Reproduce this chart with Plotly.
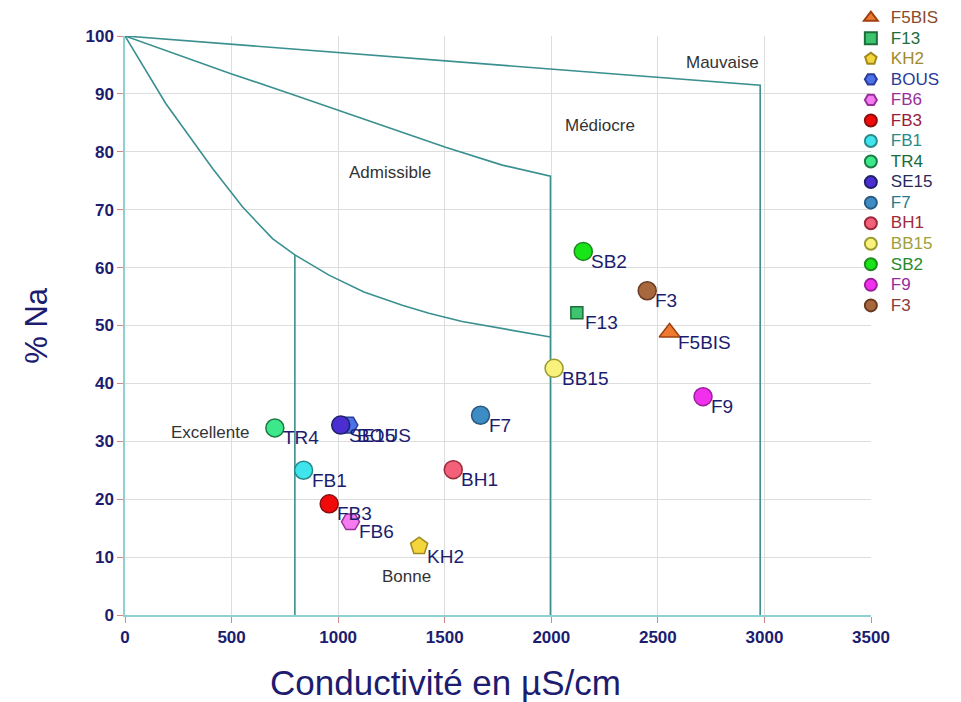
import plotly.graph_objects as go

# ---- sample data ----
names = ["F5BIS", "F13", "KH2", "BOUS", "FB6", "FB3", "FB1", "TR4",
         "SE15", "F7", "BH1", "BB15", "SB2", "F9", "F3"]
conductivity = [2555, 2120, 1380, 1050, 1058, 958, 838, 703,
                1012, 1668, 1540, 2013, 2150, 2712, 2450]
na_percent = [48.8, 52.2, 11.9, 32.8, 16.1, 19.2, 25.0, 32.3,
              32.8, 34.5, 25.1, 42.6, 62.8, 37.7, 56.0]
symbols = ["triangle-up", "square", "pentagon", "hexagon2", "hexagon2", "circle",
           "circle", "circle", "circle", "circle", "circle", "circle", "circle",
           "circle", "circle"]
fill_colors = ["#ee7a30", "#3cc46e", "#f5d53c", "#4c72e8", "#f47cf0", "#f00a0a",
               "#40e4ec", "#3ce88a", "#4a2ed0", "#3d8cc4", "#f2607a", "#f8f27c",
               "#18e418", "#f030ec", "#a8683e"]
line_colors = ["#a04010", "#1c6e3a", "#a08a20", "#2a3c9c", "#9a309a", "#8a1010",
               "#2a8a8a", "#1e7a44", "#20206a", "#2a5a80", "#9a2a3a", "#9a9a30",
               "#208a20", "#9a209a", "#6a3a22"]
legend_text_colors = ["#8b4a2a", "#1e6e3c", "#a08a2a", "#2a3a9a", "#9a309a", "#9a1a3a",
                      "#2a8a8a", "#1a6a3a", "#2a2a5a", "#2a7a8a", "#a02a3a", "#a0a03a",
                      "#2a8a2a", "#9a2a9a", "#8a3a3a"]

# ---- diagram boundaries ----
outer_x = [0, 2980, 2980]
outer_y = [100, 91.5, 0]
middle_x = [0, 497, 786, 997, 1254, 1504, 1770, 1996, 1996]
middle_y = [100, 93.5, 89.9, 87.2, 84.0, 80.8, 77.7, 75.8, 0]
inner_x = [0, 192, 411, 551, 692, 797, 957, 1121, 1301, 1426, 1582, 1996]
inner_y = [100, 88.3, 77.1, 70.5, 65.0, 62.2, 58.7, 55.8, 53.5, 52.1, 50.7, 48.0]
vline_x = [797, 797]
vline_y = [0, 62.2]

zone_names = ["Excellente", "Bonne", "Admissible", "Médiocre", "Mauvaise"]
zone_x = [400, 1321, 1242, 2227, 2801]
zone_y = [31.5, 6.6, 76.5, 84.5, 95.5]

x_ticks = [0, 500, 1000, 1500, 2000, 2500, 3000, 3500]
y_ticks = [0, 10, 20, 30, 40, 50, 60, 70, 80, 90, 100]

line_col = "#3a8f8f"
navy = "#1c1c70"

fig = go.Figure()

for bx, by in [(outer_x, outer_y), (middle_x, middle_y), (inner_x, inner_y), (vline_x, vline_y)]:
    fig.add_trace(go.Scatter(x=bx, y=by, mode="lines", showlegend=False,
                             hoverinfo="skip",
                             line=dict(color=line_col, width=1.6)))

for i, n in enumerate(names):
    fig.add_trace(go.Scatter(
        x=[conductivity[i]], y=[na_percent[i]],
        mode="markers",
        name='<span style="color:%s;font-size:17px">%s</span>' % (legend_text_colors[i], n),
        marker=dict(symbol=symbols[i], size=18 if symbols[i] != "square" else 12,
                    color=fill_colors[i],
                    line=dict(color=line_colors[i], width=1.5)),
        cliponaxis=False,
    ))

for i, n in enumerate(names):
    fig.add_annotation(x=conductivity[i], y=na_percent[i], text=n, showarrow=False,
                       xanchor="left", yanchor="middle", xshift=6, yshift=-10,
                       font=dict(family="Arial", size=19, color=navy))

for zn, zx, zy in zip(zone_names, zone_x, zone_y):
    fig.add_annotation(x=zx, y=zy, text=zn, showarrow=False,
                       font=dict(family="Arial", size=17, color="#333333"))

# axis titles
fig.add_annotation(xref="paper", yref="paper", x=0.429, y=-0.117,
                   xanchor="center", yanchor="middle",
                   text="Conductivité en µS/cm", showarrow=False,
                   font=dict(family="Arial", size=35, color=navy))
fig.add_annotation(xref="paper", yref="paper", x=-0.119, y=0.5,
                   xanchor="center", yanchor="middle",
                   text="% Na", showarrow=False, textangle=-90,
                   font=dict(family="Arial", size=31, color=navy))

fig.update_layout(
    width=961, height=702,
    paper_bgcolor="white", plot_bgcolor="white",
    margin=dict(l=117, r=98, t=28, b=95, autoexpand=False),
    legend=dict(x=0.973, y=1.058, xanchor="left", yanchor="top",
                font=dict(family="Arial", size=13.5),
                tracegroupgap=0, itemsizing="constant",
                bgcolor="rgba(0,0,0,0)", maxheight=700),
    font=dict(family="Arial"),
)
fig.update_xaxes(
    range=[0, 3500], tickvals=x_ticks,
    showgrid=True, gridcolor="#dddddd", gridwidth=1,
    showline=True, linecolor="#8fd0d0", linewidth=1.5,
    ticks="outside", ticklen=6, tickcolor="#d08a8a",
    tickfont=dict(family="Arial", size=17, color=navy, weight="bold"),
    zeroline=False,
)
fig.update_yaxes(
    range=[0, 100], tickvals=y_ticks,
    showgrid=True, gridcolor="#dddddd", gridwidth=1,
    showline=True, linecolor="#8fd0d0", linewidth=1.5,
    ticks="outside", ticklen=6, tickcolor="#d08a8a",
    tickfont=dict(family="Arial", size=17, color=navy, weight="bold"),
    zeroline=False,
)

fig.write_html("out.html")
